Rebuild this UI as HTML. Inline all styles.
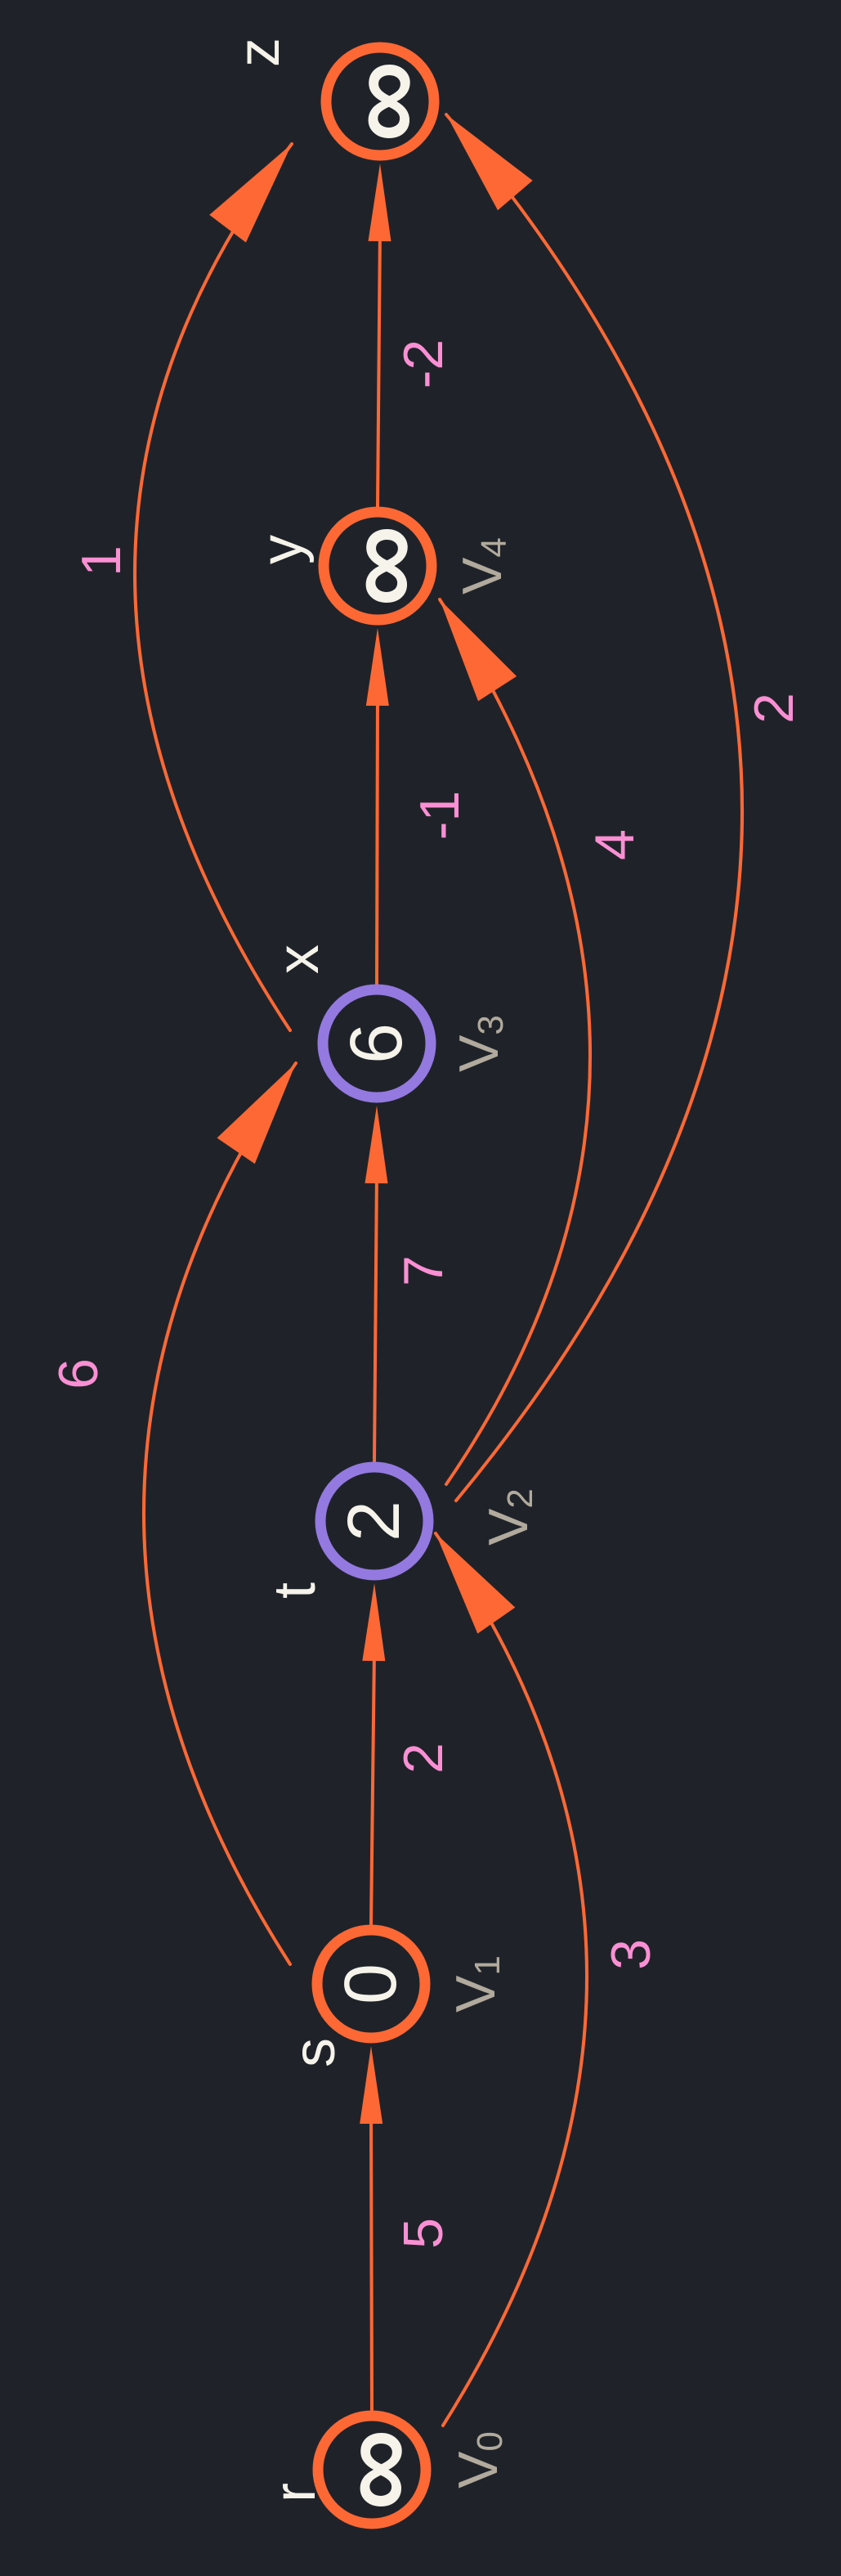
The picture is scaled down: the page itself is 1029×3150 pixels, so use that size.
<!DOCTYPE html>
<html><head><meta charset="utf-8">
<style>
html,body{margin:0;padding:0;background:#1f2329;}
svg{display:block;}
</style></head>
<body>
<svg id="g" width="1029" height="3150" viewBox="0 0 1029 3150" xmlns="http://www.w3.org/2000/svg">
<rect width="1029" height="3150" fill="#1f2329"/>
</svg>
<script>
const nodeNames = ["r","s","t","x","y","z"];
const nodeValues = ["∞","0","2","6","∞","∞"];
const nodeSub = ["0","1","2","3","4",""];
const nodeColors = ["#fd6835","#fd6835","#9479e0","#9479e0","#fd6835","#fd6835"];
const nodePos = [[455,3020],[454,2426],[458,1860],[461,1276],[462,692],[465,124]];
const edgeFrom = [0,1,2,3,4,0,1,3,2,2];
const edgeTo   = [1,2,3,4,5,2,3,5,4,5];
const edgeWeights = ["5","2","7","-1","-2","3","6","1","4","2"];
const edgeStart = [null,null,null,null,null,[542,2966],[355,2402],[355,1260],[546,1815],[558,1835]];
const edgeEnd   = [null,null,null,null,null,[533,1875],[362,1300],[357,176],[538,733],[546,140]];
const edgeBulge = [null,null,null,null,null,[718,2410],[176,1845],[165,700],[722,1285],[908,985]];
const labelPos = [[518,2731],[518,2150],[518,1554],[538,997],[518,445],[772,2390],[96,1680],[124,686],[752,1033],[947,866]];
const namePos = [[361,3048],[385,2510],[361,1945],[365,1173],[345,672],[317,64]];
const vPos = [[585,3008],[582,2426],[622,1855],[586,1276],[590,692]];

const svg=document.getElementById('g');
const NS='http://www.w3.org/2000/svg';
const OR='#fd6835';
const FF='Liberation Sans, DejaVu Sans, sans-serif';
function mk(t,a){const e=document.createElementNS(NS,t);for(const k in a)e.setAttribute(k,a[k]);svg.appendChild(e);return e;}
function arrow(tip,dx,dy,len,w){
  const L=Math.hypot(dx,dy);const ux=dx/L,uy=dy/L;
  const bx=tip[0]-ux*len,by=tip[1]-uy*len;const px=-uy*w/2,py=ux*w/2;
  return mk('polygon',{points:`${tip[0]},${tip[1]} ${bx+px},${by+py} ${bx-px},${by-py}`,fill:OR});
}
function rtext(x,y,str,size,fill){
  const t=mk('text',{x:0,y:0,'font-family':FF,'font-size':size,fill:fill,'text-anchor':'middle','dominant-baseline':'central',transform:`translate(${x},${y}) rotate(-90)`});
  t.textContent=str;return t;
}
for(let i=0;i<edgeFrom.length;i++){
  const a=nodePos[edgeFrom[i]],b=nodePos[edgeTo[i]];
  if(!edgeBulge[i]){
    const y0=a[1]-72,tip=[b[0],b[1]+76];
    const l=mk('line',{x1:a[0],y1:y0,x2:b[0],y2:tip[1]+80,stroke:OR,'stroke-width':4});
    
    
    const h=arrow(tip,b[0]-a[0],b[1]-a[1],95,28);
    
    
  } else {
    const s=edgeStart[i],e=edgeEnd[i],m=edgeBulge[i];
    const c=[2*m[0]-(s[0]+e[0])/2,2*m[1]-(s[1]+e[1])/2];
    const dx=e[0]-c[0],dy=e[1]-c[1];
    const p=mk('path',{d:`M${s[0]},${s[1]} Q${c[0]},${c[1]} ${e[0]},${e[1]}`,fill:'none',stroke:OR,'stroke-width':4,'stroke-linecap':'round'});
    
    
    const h=arrow(e,dx,dy,130,56);
    
    
  }
  const lt=rtext(labelPos[i][0],labelPos[i][1],edgeWeights[i],68,'#fb8fd4');
  
  
}
for(let i=0;i<nodeNames.length;i++){
  const [x,y]=nodePos[i];
  const c=mk('circle',{cx:x,cy:y,r:66,fill:'#1f2329',stroke:nodeColors[i],'stroke-width':13});
  
  
  const inf=nodeValues[i]==='∞';
  const v=rtext(inf?x+3:x,y,nodeValues[i],inf?140:90,'#f5f3ea');
  if(inf) v.setAttribute('font-weight','bold');
  
  
  const n=rtext(namePos[i][0],namePos[i][1],nodeNames[i],72,'#f5f3ea');
  
  
  if(nodeSub[i]!==''){
    const t=mk('text',{x:0,y:0,'font-family':FF,'font-size':68,fill:'#b1aa9d','text-anchor':'middle','dominant-baseline':'central',transform:`translate(${vPos[i][0]},${vPos[i][1]}) rotate(-90)`});
    
    
    const ts=document.createElementNS(NS,'tspan');ts.textContent='V';t.appendChild(ts);
    const sub=document.createElementNS(NS,'tspan');sub.setAttribute('font-size','44');sub.setAttribute('dy','14');sub.textContent=nodeSub[i];t.appendChild(sub);
  }
}
</script>
</body></html>
